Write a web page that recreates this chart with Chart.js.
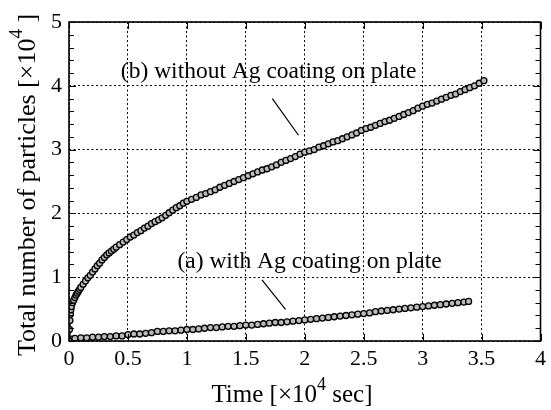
<!DOCTYPE html>
<html><head><meta charset="utf-8">
<script src="https://cdn.jsdelivr.net/npm/chart.js@4"></script>
<style>html,body{margin:0;padding:0;background:#fff;overflow:hidden}canvas{display:block}</style>
</head><body><canvas id="c" width="551" height="410"></canvas>
<script>
// ---- data (time in 10^4 s, particles in 10^4) ----
const timeB = [0,0.004,0.008,0.012,0.016,0.02,0.03,0.04,0.05,0.06,0.07,0.08,0.09,0.10,0.12,0.14,0.16,0.18,0.20,0.22,0.24,0.26,0.28,0.30,0.32,0.34,0.36,0.38,0.40,0.43,0.46,0.49,0.52,0.55,0.58,0.61,0.64,0.67,0.70,0.73,0.76,0.79,0.82,0.85,0.88,0.91,0.94,0.97,
1.00,1.04,1.08,1.12,1.16,1.20,1.24,1.28,1.32,1.36,1.40,1.44,1.48,1.52,1.56,1.60,1.64,1.68,1.72,1.76,1.80,1.84,1.88,1.92,1.96,2.00,2.04,2.08,2.12,2.16,2.20,2.24,2.28,2.32,2.36,2.40,2.44,2.48,2.52,2.56,2.60,2.64,2.68,2.72,2.76,2.80,2.84,2.88,2.92,2.96,3.00,3.04,3.08,3.12,3.16,3.20,3.24,3.28,3.32,3.36,3.40,3.44,3.48,3.52];
const countB = [0,0.18,0.32,0.42,0.49,0.54,0.60,0.64,0.68,0.72,0.75,0.78,0.81,0.84,0.89,0.94,0.99,1.03,1.08,1.13,1.18,1.22,1.27,1.31,1.35,1.38,1.41,1.44,1.47,1.51,1.55,1.59,1.63,1.66,1.70,1.73,1.77,1.80,1.84,1.87,1.90,1.93,1.97,2.01,2.05,2.09,2.12,2.16,
2.19,2.22,2.25,2.29,2.31,2.34,2.37,2.41,2.44,2.47,2.50,2.53,2.56,2.59,2.62,2.65,2.68,2.70,2.73,2.76,2.80,2.83,2.86,2.89,2.93,2.96,2.98,3.00,3.04,3.06,3.09,3.12,3.14,3.17,3.20,3.23,3.26,3.30,3.33,3.35,3.38,3.41,3.44,3.46,3.49,3.52,3.55,3.58,3.61,3.65,3.68,3.71,3.73,3.76,3.79,3.82,3.85,3.87,3.91,3.94,3.97,4.00,4.04,4.08];
const timeA = [0,0.02,0.05,0.10,0.15,0.20,0.25,0.30,0.35,0.40,0.45,0.50,0.55,0.60,0.65,0.70,0.75,0.80,0.85,0.90,0.95,1.00,1.05,1.10,1.15,1.20,1.25,1.30,1.35,1.40,1.45,1.50,1.55,1.60,1.65,1.70,1.75,1.80,1.85,1.90,1.95,2.00,2.05,2.10,2.15,2.20,2.25,2.30,2.35,2.40,2.45,2.50,2.55,2.60,2.65,2.70,2.75,2.80,2.85,2.90,2.95,3.00,3.05,3.10,3.15,3.20,3.25,3.30,3.35,3.39];
const countA = [0,0.03,0.04,0.05,0.05,0.06,0.06,0.07,0.07,0.08,0.08,0.10,0.11,0.11,0.12,0.13,0.15,0.15,0.16,0.16,0.17,0.18,0.18,0.19,0.20,0.21,0.21,0.22,0.23,0.23,0.24,0.25,0.25,0.26,0.27,0.28,0.29,0.29,0.30,0.31,0.32,0.33,0.34,0.35,0.36,0.37,0.38,0.39,0.40,0.41,0.42,0.43,0.44,0.46,0.47,0.48,0.49,0.50,0.51,0.52,0.53,0.54,0.55,0.56,0.57,0.58,0.59,0.60,0.61,0.62];
const xTickLabels = ['0','0.5','1','1.5','2','2.5','3','3.5','4'];
const yTickLabels = ['0','1','2','3','4','5'];
const labelB = '(b) without Ag coating on plate';
const labelA = '(a) with Ag coating on plate';

const serif = '"Liberation Serif","Times New Roman",Times,serif';

function drawRich(ctx, parts, x, y){
  let cx = x;
  for (const p of parts){
    ctx.font = p.size + 'px ' + serif;
    ctx.fillText(p.t, cx, y - (p.rise || 0));
    cx += ctx.measureText(p.t).width;
  }
}
function richWidth(ctx, parts){
  let w = 0;
  for (const p of parts){ ctx.font = p.size + 'px ' + serif; w += ctx.measureText(p.t).width; }
  return w;
}

const framePlugin = {
  id: 'frame',
  beforeDraw(chart){
    const c = chart.ctx; c.save(); c.fillStyle = '#fff'; c.fillRect(0,0,chart.width,chart.height); c.restore();
  },
  afterDraw(chart){
    const c = chart.ctx, a = chart.chartArea, xs = chart.scales.x, ys = chart.scales.y;
    c.save();
    c.setLineDash([]);
    c.strokeStyle = '#000';
    c.lineWidth = 1;
    c.beginPath();
    xs.ticks.forEach(t => {
      const px = Math.round(xs.getPixelForValue(t.value)) + 0.5;
      c.moveTo(px, a.bottom); c.lineTo(px, a.bottom - 7);
      c.moveTo(px, a.top); c.lineTo(px, a.top + 7);
    });
    for (let v = 0; v <= 5.0001; v += 0.2) {
      const py = Math.round(ys.getPixelForValue(v)) + 0.5;
      const major = Math.abs(v - Math.round(v)) < 1e-6;
      const len = major ? 7 : 5;
      c.moveTo(a.left, py); c.lineTo(a.left + len, py);
      c.moveTo(a.right, py); c.lineTo(a.right - len, py);
    }
    c.stroke();
    c.lineWidth = 1.6;
    c.strokeRect(a.left, a.top, a.right - a.left, a.bottom - a.top);

    const ann = chart.options.plugins.frame;
    c.fillStyle = '#000';
    c.textBaseline = 'alphabetic';
    c.textAlign = 'left';
    ann.texts.forEach(t => {
      c.font = t.size + 'px ' + serif;
      c.fillText(t.text, xs.getPixelForValue(t.x), ys.getPixelForValue(t.y));
    });
    c.lineWidth = 1.2;
    c.beginPath();
    ann.leaders.forEach(l => {
      c.moveTo(xs.getPixelForValue(l[0]), ys.getPixelForValue(l[1]));
      c.lineTo(xs.getPixelForValue(l[2]), ys.getPixelForValue(l[3]));
    });
    c.stroke();

    const xt = [{t:'Time [×10', size:25},{t:'4', size:18, rise:12},{t:' sec]', size:25}];
    const xw = richWidth(c, xt);
    drawRich(c, xt, 292 - xw/2, 402);
    const yt = [{t:'Total number of particles [×10', size:26},{t:'4', size:19, rise:13},{t:' ]', size:26}];
    const yw = richWidth(c, yt);
    c.translate(35, 185);
    c.rotate(-Math.PI/2);
    drawRich(c, yt, -yw/2, 0);
    c.restore();
  }
};

const tickFont = {family: serif, size: 22};
const pointStyle = { showLine:true, borderColor:'#222', borderWidth:2,
  pointRadius:3, pointBorderWidth:1.3, pointBorderColor:'#000', pointBackgroundColor:'#bbb' };
new Chart(document.getElementById('c'), {
  type: 'scatter',
  data: {
    datasets: [
      Object.assign({ data: timeB.map((t,i)=>({x:t, y:countB[i]})) }, pointStyle),
      Object.assign({ data: timeA.map((t,i)=>({x:t, y:countA[i]})) }, pointStyle)
    ]
  },
  options: {
    responsive:false, animation:false, devicePixelRatio:1,
    layout:{padding:{left:0, right:3, top:22, bottom:0}},
    plugins:{
      legend:{display:false}, tooltip:{enabled:false},
      frame:{
        texts:[{text:labelB, x:0.44, y:4.12, size:23.5},{text:labelA, x:0.92, y:1.14, size:23.5}],
        leaders:[[1.725,3.80,1.947,3.225],[1.637,0.96,1.837,0.495]]
      }
    },
    scales:{
      x:{type:'linear', min:0, max:4,
        afterFit(s){ s.height = 69; },
        ticks:{stepSize:0.5, color:'#000', font:tickFont, padding:5, maxRotation:0,
          callback:(v,i)=>xTickLabels[i]},
        grid:{color:'#000', lineWidth:1, drawTicks:false},
        border:{display:false, dash:[2,2.5]}
      },
      y:{type:'linear', min:0, max:5,
        afterFit(s){ s.width = 69; },
        ticks:{stepSize:1, color:'#000', font:tickFont, padding:7,
          callback:(v,i)=>yTickLabels[i]},
        grid:{color:'#000', lineWidth:1, drawTicks:false},
        border:{display:false, dash:[2,2.5]}
      }
    }
  },
  plugins:[framePlugin]
});
</script>
</body></html>
